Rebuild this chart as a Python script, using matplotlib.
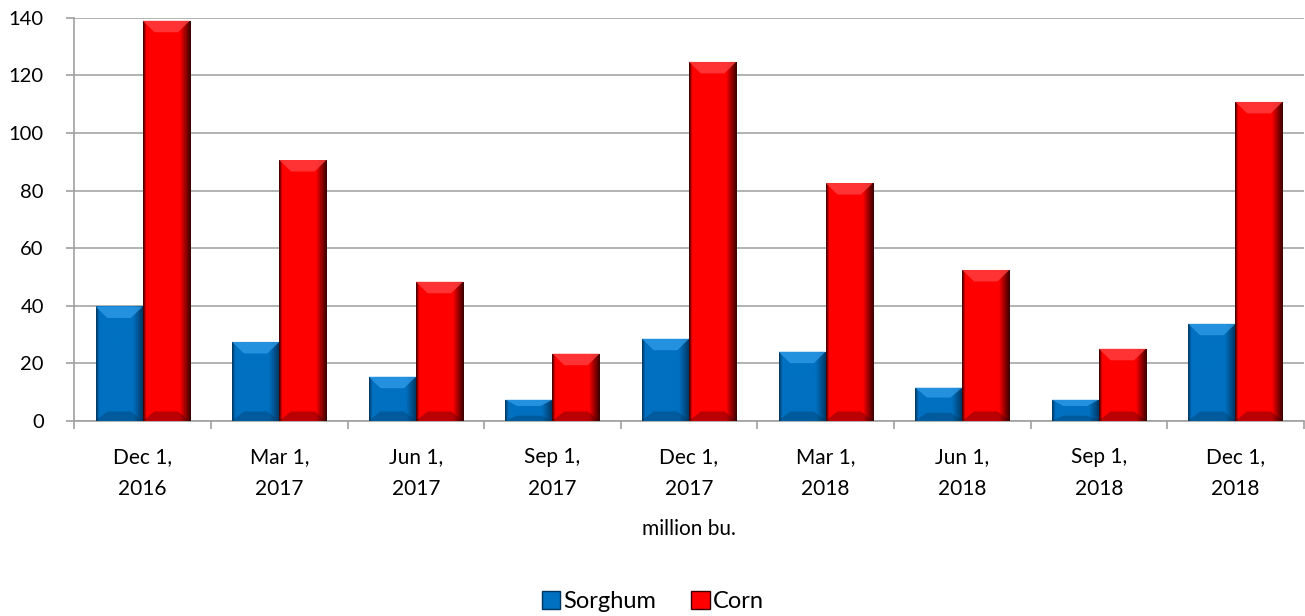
import numpy as np
import matplotlib
matplotlib.use('agg')
import matplotlib.pyplot as plt
from matplotlib.patches import Patch, Polygon
from matplotlib.colors import LinearSegmentedColormap

plt.rcParams['font.family'] = ['Lato', 'DejaVu Sans']

kategorije = ['Dec 1,\n2016', 'Mar 1,\n2017', 'Jun 1,\n2017', 'Sep 1,\n2017', 'Dec 1,\n2017',
              'Mar 1,\n2018', 'Jun 1,\n2018', 'Sep 1,\n2018', 'Dec 1,\n2018']
sorghum = [39.7, 27.4, 15.3, 7.3, 28.5, 24.0, 11.5, 7.3, 33.7]
corn = [139.0, 90.6, 48.3, 23.3, 124.7, 82.6, 52.4, 25.0, 110.8]
serije = ['Sorghum', 'Corn']
# osnovna, temna (desni rob), svetla (zgornji rob)
barve = {'Sorghum': ('#0070c0', '#00355e', '#2e9ae6'),
         'Corn': ('#ff0000', '#3a0000', '#ff4040')}

fig = plt.figure(figsize=(13.05, 6.16), dpi=100)
ax = fig.add_axes([0.057, 0.317, 0.942, 0.654])

x = np.arange(len(kategorije))
sirina = 0.345


def bevel_bar(ax, xs, vals, barva):
    osnovna, temna, svetla = barva
    cmap = LinearSegmentedColormap.from_list(
        'b', [(0, temna), (0.06, osnovna), (0.78, osnovna), (1, temna)])
    grad = np.linspace(0, 1, 64).reshape(1, -1)
    bars = ax.bar(xs, vals, sirina, color=osnovna, zorder=3)
    for b in bars:
        x0, w, h = b.get_x(), b.get_width(), b.get_height()
        im = ax.imshow(grad, extent=(x0, x0 + w, 0, h), aspect='auto', cmap=cmap,
                       zorder=3, interpolation='bicubic')
        im.set_clip_path(b)
        dy = min(4.0, h * 0.3)
        top = Polygon([[x0, h], [x0 + w, h], [x0 + w * 0.75, h - dy], [x0 + w * 0.25, h - dy]],
                      closed=True, color=svetla, alpha=0.8, zorder=4, lw=0)
        bot = Polygon([[x0, 0], [x0 + w, 0], [x0 + w * 0.75, dy * 0.8], [x0 + w * 0.25, dy * 0.8]],
                      closed=True, color=temna, alpha=0.35, zorder=4, lw=0)
        ax.add_patch(top)
        ax.add_patch(bot)
    return bars


bevel_bar(ax, x - sirina / 2, sorghum, barve['Sorghum'])
bevel_bar(ax, x + sirina / 2, corn, barve['Corn'])

ax.set_xlim(-0.5, len(kategorije) - 0.5)
ax.set_ylim(0, 140)
ax.set_yticks(np.arange(0, 141, 20))
ax.set_xticks(x)
ax.set_xticklabels(kategorije, fontsize=15, linespacing=1.75)
ax.set_xticks(np.arange(-0.5, len(kategorije), 1), minor=True)
ax.tick_params(axis='x', which='major', length=0, pad=19)
ax.tick_params(axis='x', which='minor', length=6, color='#a0a0a0', width=1.2)
ax.tick_params(axis='y', labelsize=14.5, length=6, color='#a0a0a0', width=1.2, pad=16)
ax.grid(axis='y', color='#a6a6a6', lw=1.2, zorder=0)
ax.set_axisbelow(True)
for s in ['top', 'right']:
    ax.spines[s].set_visible(False)
for s in ['left', 'bottom']:
    ax.spines[s].set_color('#a0a0a0')
    ax.spines[s].set_linewidth(1.2)
ax.set_xlabel('million bu.', fontsize=15, labelpad=14)

rocaji = [Patch(facecolor=barve[s][0], edgecolor=barve[s][1]) for s in serije]
fig.legend(rocaji, serije, loc='lower center', bbox_to_anchor=(0.5, -0.028), ncol=2,
           frameon=False, fontsize=17, handlelength=0.8, handleheight=0.8,
           handletextpad=0.1, columnspacing=1.5)

fig.savefig('out.png', dpi=100)
